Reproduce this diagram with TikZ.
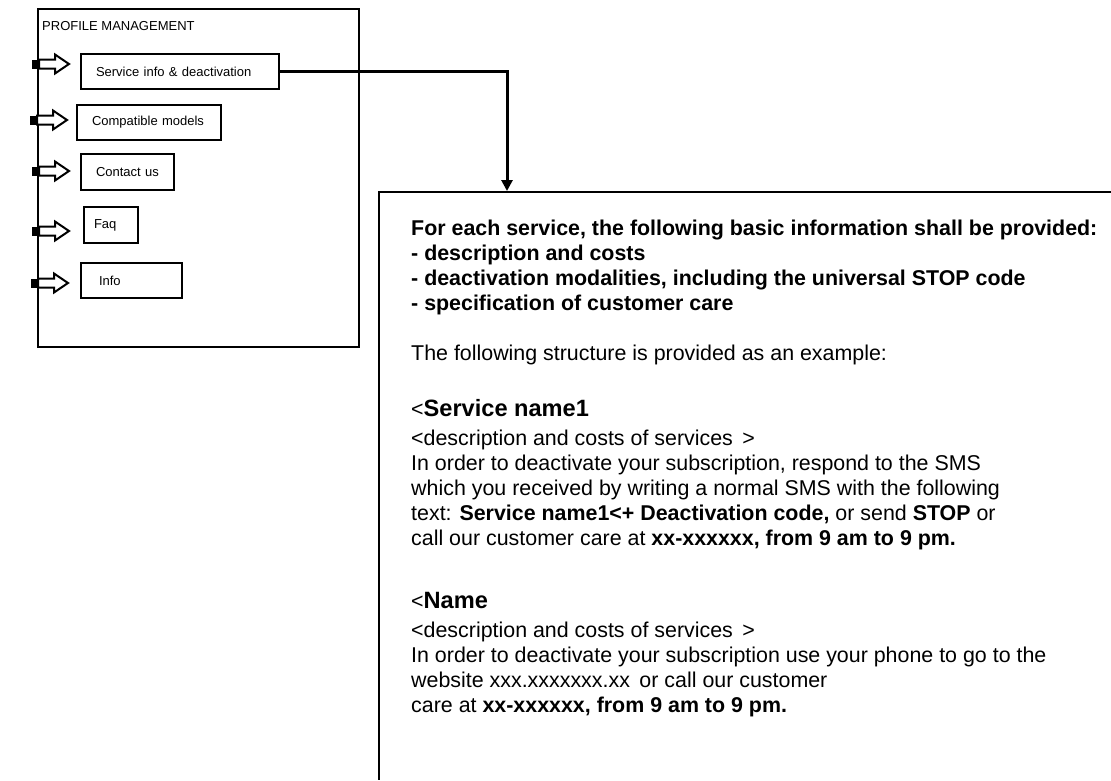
\documentclass[tikz,border=0pt]{standalone}
\usepackage{fontspec}
\setmainfont{Liberation Sans}
\usetikzlibrary{arrows.meta}
\tikzset{
  panel/.style={draw, line width=2pt, minimum width=321pt, minimum height=338pt, anchor=north west, inner sep=0pt},
  menubox/.style={draw, line width=2pt, anchor=north west, align=left, minimum height=35pt, font=\fontsize{13}{15}\selectfont},
  small/.style={font=\fontsize{13}{15}\selectfont, inner sep=0pt, anchor=base west},
  body/.style={font=\fontsize{21.4}{25}\selectfont, inner sep=0pt, anchor=base west},
  bbody/.style={font=\bfseries\fontsize{21.4}{25}\selectfont, inner sep=0pt, anchor=base west},
  link/.style={line width=3pt, -{Triangle[length=11pt,width=11pt]}},
  openbox/.style={line width=2.6pt},
  barrow/.pic={
    \fill (0,-4.5) rectangle (7,4.5);
    \draw[line width=2pt, fill=white] (7,-4.5) -- (23,-4.5) -- (23,-9.5) -- (37,0) -- (23,9.5) -- (23,4.5) -- (7,4.5) -- cycle;
  }
}
\newcommand{\headfont}{\bfseries\fontsize{23.6}{27}\selectfont}
\begin{document}
\begin{tikzpicture}[x=1pt,y=-1pt]
\useasboundingbox (0,0) rectangle (1111,780);
% left panel
\node[panel] (panel) at (37,8) {};
\node[small] (title) at (42,30) {PROFILE MANAGEMENT};
\node[menubox, minimum width=198pt, text width=168pt, inner xsep=15pt] (svc) at (80,53) {Service info \& deactivation};
\node[menubox, minimum width=144pt, text width=114pt, inner xsep=15pt] (compat) at (76,104) {Compatible models};
\node[menubox, minimum width=93pt, text width=63pt, inner xsep=15pt, minimum height=36pt] (contact) at (80,153) {Contact us};
\node[menubox, minimum width=54pt, text width=34pt, inner xsep=10pt, minimum height=36pt] (faq) at (83,206) {Faq};
\node[menubox, minimum width=101pt, text width=65pt, inner xsep=18pt] (info) at (80,262) {Info};
\pic at (32,64) {barrow};
\pic at (30,120) {barrow};
\pic at (32,171) {barrow};
\pic at (32,231) {barrow};
\pic at (31,283) {barrow};
% right open box
\coordinate (tr) at (1111,192);
\coordinate (tl) at (379,192);
\coordinate (bl) at (379,780);
\draw[openbox] (tr) -- (tl) -- (bl);
\coordinate (target) at (507,191);
\draw[link] (svc.east) -| (target);
% text
\node[bbody] (t1) at (411,235) {For each service, the following basic information shall be provided:};
\node[bbody] (t2) at (411,260) {- description and costs};
\node[bbody] (t3) at (411,285) {- deactivation modalities, including the universal STOP code};
\node[bbody] (t4) at (411,310) {- specification of customer care};
\node[body] (t5) at (411,360) {The following structure is provided as an example:};
\node[body] (t6) at (411,416) {<{\headfont Service name1}};
\node[body] (t7) at (411,445) {<description and costs of services \,>};
\node[body] (t8) at (411,470) {In order to deactivate your subscription, respond to the SMS};
\node[body] (t9) at (411,495) {which you received by writing a normal SMS with the following};
\node[body] (t10) at (411,520) {text: \textbf{Service name1<+ Deactivation code,} or send \textbf{STOP} or};
\node[body] (t11) at (411,545) {call our customer care at \textbf{xx-xxxxxx, from 9 am to 9 pm.}};
\node[body] (t12) at (411,608) {<{\headfont Name}};
\node[body] (t13) at (411,637) {<description and costs of services \,>};
\node[body] (t14) at (411,662) {In order to deactivate your subscription use your phone to go to the};
\node[body] (t15) at (411,687) {website xxx.xxxxxxx.xx \,or call our customer};
\node[body] (t16) at (411,712) {care at \textbf{xx-xxxxxx, from 9 am to 9 pm.}};
\end{tikzpicture}
\end{document}
